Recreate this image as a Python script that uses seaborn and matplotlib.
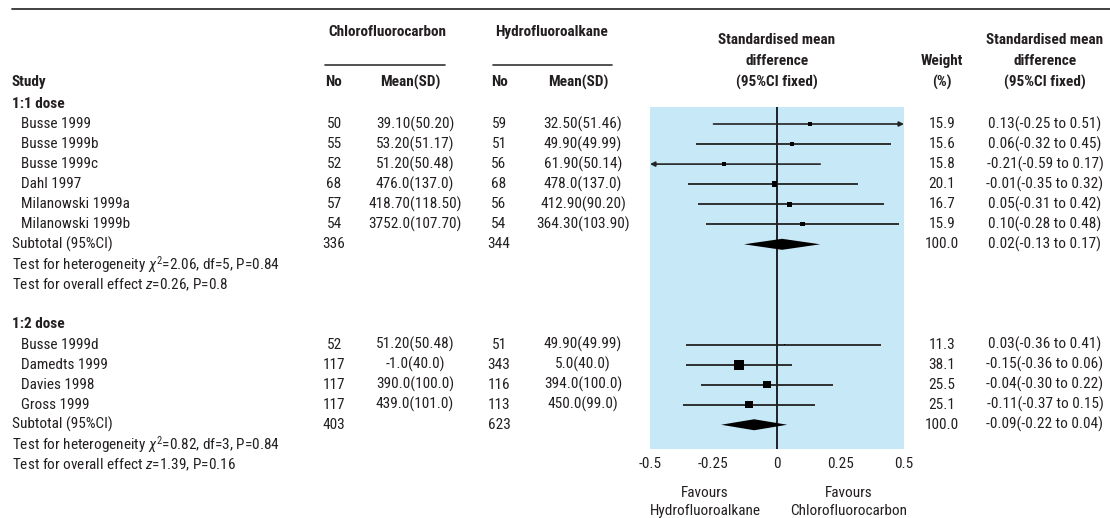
import matplotlib
matplotlib.use("Agg")
import matplotlib.pyplot as plt
from matplotlib import font_manager
import seaborn as sns
import pandas as pd

# 1:1 dose studies
studies_a = ["Busse 1999", "Busse 1999b", "Busse 1999c", "Dahl 1997",
             "Milanowski 1999a", "Milanowski 1999b"]
cfc_n_a = [50, 55, 52, 68, 57, 54]
cfc_mean_a = ["39.10(50.20)", "53.20(51.17)", "51.20(50.48)", "476.0(137.0)",
              "418.70(118.50)", "3752.0(107.70)"]
hfa_n_a = [59, 51, 56, 68, 56, 54]
hfa_mean_a = ["32.50(51.46)", "49.90(49.99)", "61.90(50.14)", "478.0(137.0)",
              "412.90(90.20)", "364.30(103.90)"]
weight_a = [15.9, 15.6, 15.8, 20.1, 16.7, 15.9]
smd_a = [0.13, 0.06, -0.21, -0.01, 0.05, 0.10]
lo_a = [-0.25, -0.32, -0.59, -0.35, -0.31, -0.28]
hi_a = [0.51, 0.45, 0.17, 0.32, 0.42, 0.48]
sub_a = {"cfc_n": 336, "hfa_n": 344, "weight": 100.0, "smd": 0.02, "lo": -0.13, "hi": 0.17}
het_a = r"Test for heterogeneity $\chi^2$=2.06, df=5, P=0.84"
eff_a = r"Test for overall effect $z$=0.26, P=0.8"

# 1:2 dose studies
studies_b = ["Busse 1999d", "Damedts 1999", "Davies 1998", "Gross 1999"]
cfc_n_b = [52, 117, 117, 117]
cfc_mean_b = ["51.20(50.48)", "-1.0(40.0)", "390.0(100.0)", "439.0(101.0)"]
hfa_n_b = [51, 343, 116, 113]
hfa_mean_b = ["49.90(49.99)", "5.0(40.0)", "394.0(100.0)", "450.0(99.0)"]
weight_b = [11.3, 38.1, 25.5, 25.1]
smd_b = [0.03, -0.15, -0.04, -0.11]
lo_b = [-0.36, -0.36, -0.30, -0.37]
hi_b = [0.41, 0.06, 0.22, 0.15]
sub_b = {"cfc_n": 403, "hfa_n": 623, "weight": 100.0, "smd": -0.09, "lo": -0.22, "hi": 0.04}
het_b = r"Test for heterogeneity $\chi^2$=0.82, df=3, P=0.84"
eff_b = r"Test for overall effect $z$=1.39, P=0.16"

xticks = [-0.5, -0.25, 0, 0.25, 0.5]
xtick_labels = ["-0.5", "-0.25", "0", "0.25", "0.5"]

sns.set_style("white")
# pick a narrow font if one is installed
names = {f.name for f in font_manager.fontManager.ttflist}
fam = "DejaVu Sans"
for cand in ["Liberation Sans Narrow", "Roboto Condensed", "Open Sans Condensed"]:
    if cand in names:
        fam = cand
        break
plt.rcParams["font.family"] = [fam, "DejaVu Sans"]
if fam == "DejaVu Sans":
    plt.rcParams["font.stretch"] = "condensed"
plt.rcParams["mathtext.fontset"] = "custom"
plt.rcParams["mathtext.rm"] = fam
plt.rcParams["mathtext.it"] = fam + ":italic"
FS = 11
plt.rcParams["font.size"] = FS

TXT = "#231f20"
BLUE = "#c6e8f7"

def row_y(i):
    return 124 + 20.05 * i

# table of studies with their row index
df = pd.DataFrame({
    "study": studies_a + studies_b,
    "cfc_n": cfc_n_a + cfc_n_b,
    "cfc_mean": cfc_mean_a + cfc_mean_b,
    "hfa_n": hfa_n_a + hfa_n_b,
    "hfa_mean": hfa_mean_a + hfa_mean_b,
    "weight": weight_a + weight_b,
    "smd": smd_a + smd_b,
    "lo": lo_a + lo_b,
    "hi": hi_a + hi_b,
})
df["row"] = [row_y(i) for i in list(range(0, 6)) + list(range(11, 15))]

fig = plt.figure(figsize=(11.1, 5.18), dpi=100)

# forest panel
ax = fig.add_axes([650 / 1110, (518 - 449) / 518, 254 / 1110, 342 / 518])
ax.set_facecolor(BLUE)
for s in ax.spines.values():
    s.set_visible(False)
ax.axvline(0, color="black", lw=1.2, zorder=2)

# confidence intervals (arrow when beyond the axis range)
for _, r in df.iterrows():
    lo, hi = max(r["lo"], -0.5), min(r["hi"], 0.5)
    if r["hi"] > 0.5:
        ax.annotate("", xy=(hi, r["row"]), xytext=(lo, r["row"]),
                    arrowprops=dict(arrowstyle="-|>", color="#222222", lw=1.2,
                                    mutation_scale=7, shrinkA=0, shrinkB=0), zorder=3)
    elif r["lo"] < -0.5:
        ax.annotate("", xy=(lo, r["row"]), xytext=(hi, r["row"]),
                    arrowprops=dict(arrowstyle="-|>", color="#222222", lw=1.2,
                                    mutation_scale=7, shrinkA=0, shrinkB=0), zorder=3)
    else:
        ax.hlines(r["row"], lo, hi, color="#222222", lw=1.3, zorder=3)

sns.scatterplot(data=df, x="smd", y="row", size="weight", sizes=(1.0, 52),
                size_norm=(11.3, 38.1), marker="s", color="black", linewidth=0,
                legend=False, ax=ax, zorder=4)

for sub, i in [(sub_a, 6), (sub_b, 15)]:
    y = row_y(i)
    ax.fill([sub["lo"], sub["smd"], sub["hi"], sub["smd"]],
            [y, y - 5.5, y, y + 5.5], color="black", lw=0, zorder=4)

ax.set_xlabel("")
ax.set_ylabel("")
ax.set_xlim(-0.5, 0.5)
ax.set_ylim(449, 107)
ax.set_yticks([])
ax.set_xticks(xticks)
ax.set_xticklabels(xtick_labels, color=TXT)
ax.tick_params(axis="x", direction="in", length=4, width=1.2, color="white", pad=6,
               labelsize=FS)

# text layer in pixel coordinates
bg = fig.add_axes([0, 0, 1, 1])
bg.set_xlim(0, 1110)
bg.set_ylim(518, 0)
bg.axis("off")
bg.patch.set_alpha(0)

bg.plot([12, 1110], [9, 9], color="#333333", lw=1.3)
bg.plot([325, 445], [65, 65], color="#333333", lw=1.2)
bg.plot([493, 612], [65, 65], color="#333333", lw=1.2)

def t(x, y, s, ha="left", bold=False):
    bg.text(x, y, s, ha=ha, va="center", color=TXT,
            fontweight="bold" if bold else "normal")

HEAD_Y = 82
t(387, 32, "Chlorofluorocarbon", "center", True)
t(552, 32, "Hydrofluoroalkane", "center", True)
t(12, HEAD_Y, "Study", bold=True)
t(334, HEAD_Y, "No", "center", True)
t(410, HEAD_Y, "Mean(SD)", "center", True)
t(499, HEAD_Y, "No", "center", True)
t(578, HEAD_Y, "Mean(SD)", "center", True)
for k, line in enumerate(["Standardised mean", "difference", "(95%CI fixed)"]):
    t(777, HEAD_Y - 21 * (2 - k), line, "center", True)
    t(1045, HEAD_Y - 21 * (2 - k), line, "center", True)
t(942, HEAD_Y - 21, "Weight", "center", True)
t(942, HEAD_Y, "(%)", "center", True)

t(12, row_y(-1), "1:1 dose", bold=True)
t(12, row_y(10), "1:2 dose", bold=True)

for _, r in df.iterrows():
    y = r["row"]
    t(21, y, r["study"])
    t(334, y, str(r["cfc_n"]), "center")
    t(415, y, r["cfc_mean"], "center")
    t(499, y, str(r["hfa_n"]), "center")
    t(583, y, r["hfa_mean"], "center")
    t(942, y, f"{r['weight']:.1f}", "center")
    t(1045, y, f"{r['smd']:.2f}({r['lo']:.2f} to {r['hi']:.2f})", "center")

for sub, i, het, eff in [(sub_a, 6, het_a, eff_a), (sub_b, 15, het_b, eff_b)]:
    y = row_y(i)
    t(12, y, "Subtotal (95%CI)")
    t(334, y, str(sub["cfc_n"]), "center")
    t(499, y, str(sub["hfa_n"]), "center")
    t(942, y, f"{sub['weight']:.1f}", "center")
    t(1045, y, f"{sub['smd']:.2f}({sub['lo']:.2f} to {sub['hi']:.2f})", "center")
    t(12, row_y(i + 1), het)
    t(12, row_y(i + 2), eff)

t(705, 493, "Favours", "center")
t(705, 511, "Hydrofluoroalkane", "center")
t(849, 493, "Favours", "center")
t(849, 511, "Chlorofluorocarbon", "center")

fig.savefig("out.png", dpi=100)
